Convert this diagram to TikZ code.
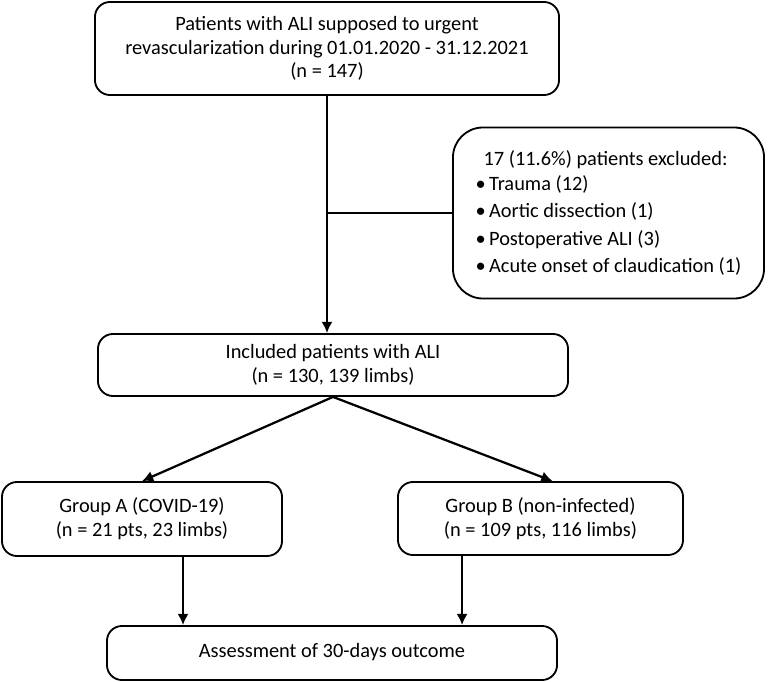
\documentclass[tikz,border=0pt]{standalone}
\usepackage{fontspec}
\setmainfont{Carlito}
\usepackage{tikz}
\usetikzlibrary{arrows,arrows.meta,positioning}
\tikzset{
    mynode/.style={rectangle,rounded corners=0.375cm,draw=black, line width=1.3pt, inner sep=0pt, text centered, align=center, font=\fontsize{14.5}{16.9}\selectfont},
    myarrow/.style={-{Latex[length=8pt,width=8pt]}, line width=1.6pt},
    myline/.style={line width=1.6pt}
}
\begin{document}
\begin{tikzpicture}[x=0.025cm, y=-0.025cm]
\useasboundingbox (0,0) rectangle (778,682);

\node[mynode, minimum width=11.6cm, minimum height=2.325cm] (patients) at (327,48.5) {Patients with ALI supposed to urgent\\revascularization during 01.01.2020 - 31.12.2021\\(n = 147)};
\node[mynode, rounded corners=0.75cm, align=left, minimum width=7.775cm, minimum height=4.275cm, font=\fontsize{14.5}{19.5}\selectfont] (excluded) at (608.5,213) {\hspace*{0.2cm}17 (11.6\%) patients excluded:\\[-2pt]\textbullet\,Trauma (12)\\\textbullet\,Aortic dissection (1)\\\textbullet\,Postoperative ALI (3)\\\textbullet\,Acute onset of claudication (1)};
\node[mynode, minimum width=11.75cm, minimum height=1.55cm] (included) at (333,365) {Included patients with ALI\\(n = 130, 139 limbs)};
\node[mynode, minimum width=7cm, minimum height=1.85cm] (groupA) at (142,519) {Group A (COVID-19)\\(n = 21 pts, 23 limbs)};
\node[mynode, minimum width=7.125cm, minimum height=1.825cm] (groupB) at (540.5,518.5) {Group B (non-infected)\\(n = 109 pts, 116 limbs)};
\node[mynode, minimum width=11.25cm, minimum height=1.35cm] (outcome) at (332,653) {\raisebox{3pt}{Assessment of 30-days outcome}};

\draw[myarrow] (patients.south) -- (patients.south |- included.north);
\draw[myline] (excluded.west) -- (excluded.west -| patients.south);
\draw[myarrow] (included.south) -- (groupA.north);
\draw[myarrow] (included.south) -- ([xshift=0.3cm]groupB.north);
\draw[myarrow] ([xshift=1.025cm]groupA.south) -- ([xshift=1.025cm]groupA.south |- outcome.north);
\draw[myarrow] ([xshift=-1.96cm]groupB.south) -- ([xshift=-1.96cm]groupB.south |- outcome.north);

\end{tikzpicture}
\end{document}
